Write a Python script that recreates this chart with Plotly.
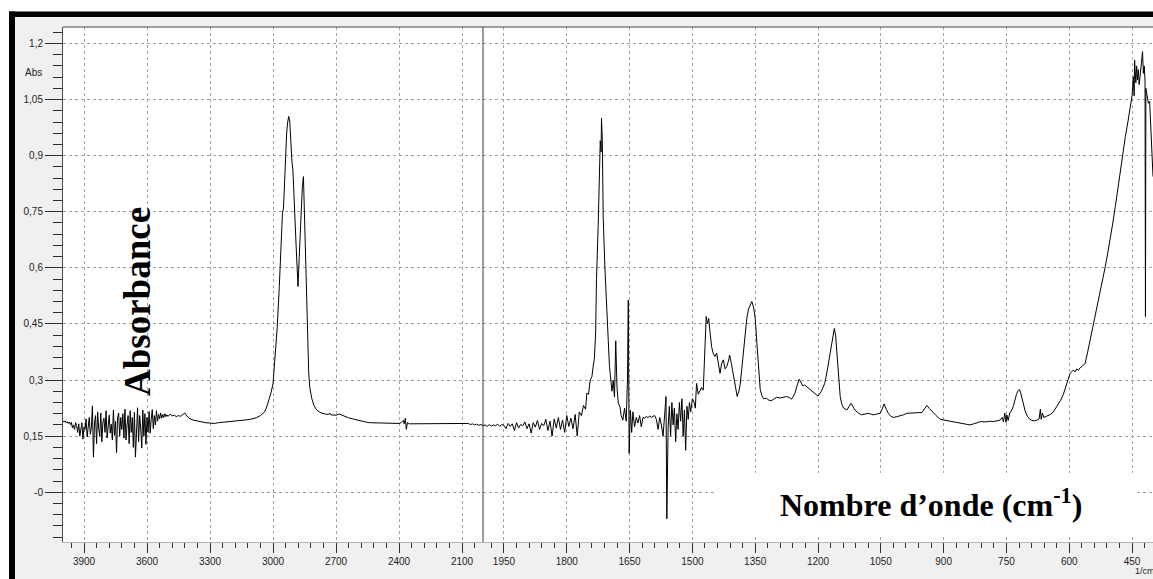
import plotly.graph_objects as go

# ---------------- data (wavenumber cm-1, absorbance) ----------------
SPEC_4000_2000 = [
    (4000, 0.190), (3995, 0.188), (3990, 0.191), (3985, 0.186), (3980, 0.189), (3975, 0.184),
    (3970, 0.188), (3965, 0.181), (3960, 0.187), (3955, 0.172), (3950, 0.180), (3945, 0.168),
    (3940, 0.186), (3935, 0.178), (3930, 0.160), (3925, 0.183), (3920, 0.150), (3915, 0.176),
    (3910, 0.186), (3905, 0.142), (3900, 0.175), (3895, 0.168), (3890, 0.196), (3885, 0.148),
    (3880, 0.170), (3875, 0.200), (3870, 0.155), (3865, 0.172), (3860, 0.231), (3855, 0.094),
    (3850, 0.185), (3845, 0.205), (3840, 0.130), (3835, 0.215), (3830, 0.170), (3825, 0.150),
    (3820, 0.212), (3815, 0.135), (3810, 0.188), (3805, 0.198), (3800, 0.160), (3795, 0.218),
    (3790, 0.145), (3785, 0.176), (3780, 0.206), (3775, 0.158), (3770, 0.182), (3765, 0.140),
    (3760, 0.220), (3755, 0.152), (3750, 0.190), (3745, 0.106), (3740, 0.200), (3735, 0.212),
    (3730, 0.150), (3725, 0.200), (3720, 0.168), (3715, 0.210), (3710, 0.145), (3705, 0.222),
    (3700, 0.140), (3695, 0.180), (3690, 0.205), (3685, 0.130), (3680, 0.218), (3675, 0.160),
    (3670, 0.200), (3665, 0.120), (3660, 0.214), (3655, 0.094), (3650, 0.180), (3645, 0.226),
    (3640, 0.135), (3635, 0.205), (3630, 0.172), (3625, 0.118), (3620, 0.220), (3615, 0.150),
    (3610, 0.210), (3605, 0.128), (3600, 0.200), (3595, 0.160), (3590, 0.216), (3585, 0.158),
    (3580, 0.195), (3575, 0.221), (3570, 0.170), (3565, 0.205), (3560, 0.180), (3555, 0.218),
    (3550, 0.190), (3545, 0.208), (3540, 0.196), (3535, 0.212), (3530, 0.198), (3525, 0.208),
    (3520, 0.200), (3515, 0.210), (3510, 0.202), (3505, 0.207), (3500, 0.203), (3490, 0.209),
    (3480, 0.204), (3470, 0.206), (3460, 0.202), (3450, 0.205), (3440, 0.203), (3430, 0.207),
    (3420, 0.212), (3410, 0.204), (3400, 0.198), (3380, 0.193), (3360, 0.190), (3340, 0.188),
    (3320, 0.186), (3300, 0.185), (3280, 0.184), (3260, 0.186), (3240, 0.187), (3220, 0.189),
    (3200, 0.190), (3180, 0.191), (3160, 0.192), (3140, 0.193), (3120, 0.194), (3100, 0.196),
    (3080, 0.199), (3060, 0.205), (3040, 0.215), (3030, 0.228), (3020, 0.245), (3010, 0.265),
    (3000, 0.290), (2990, 0.354), (2980, 0.440), (2970, 0.550), (2960, 0.690), (2955, 0.746),
    (2950, 0.760), (2945, 0.835), (2940, 0.915), (2935, 0.960), (2930, 0.990), (2925, 1.005),
    (2920, 0.990), (2915, 0.930), (2910, 0.886), (2905, 0.860), (2900, 0.780), (2895, 0.720),
    (2890, 0.660), (2885, 0.600), (2881, 0.550), (2875, 0.630), (2870, 0.700), (2865, 0.780),
    (2860, 0.820), (2855, 0.844), (2850, 0.740), (2845, 0.600), (2840, 0.470), (2835, 0.380),
    (2830, 0.320), (2825, 0.280), (2815, 0.250), (2805, 0.232), (2795, 0.222), (2785, 0.217),
    (2770, 0.212), (2750, 0.209), (2735, 0.208), (2730, 0.212), (2725, 0.207), (2700, 0.206),
    (2685, 0.209), (2675, 0.207), (2660, 0.203), (2640, 0.199), (2620, 0.196), (2600, 0.193),
    (2580, 0.190), (2560, 0.188), (2540, 0.186), (2500, 0.185), (2450, 0.184), (2400, 0.184),
    (2390, 0.186), (2380, 0.192), (2375, 0.183), (2370, 0.198), (2365, 0.168), (2360, 0.186),
    (2350, 0.183), (2300, 0.183), (2200, 0.183), (2100, 0.183), (2090, 0.184), (2080, 0.182),
    (2070, 0.184), (2060, 0.181), (2050, 0.183), (2040, 0.180), (2030, 0.182), (2020, 0.179),
    (2010, 0.181), (2000, 0.178),
]

SPEC_2000_400 = [
    (2000, 0.178), (1995, 0.180), (1990, 0.176), (1985, 0.181), (1980, 0.177), (1975, 0.180),
    (1970, 0.178), (1965, 0.182), (1960, 0.176), (1955, 0.181), (1950, 0.179), (1945, 0.170),
    (1940, 0.184), (1935, 0.176), (1930, 0.183), (1925, 0.165), (1920, 0.186), (1915, 0.172),
    (1910, 0.181), (1905, 0.178), (1900, 0.188), (1895, 0.170), (1890, 0.183), (1885, 0.158),
    (1880, 0.186), (1875, 0.174), (1870, 0.192), (1865, 0.168), (1860, 0.184), (1855, 0.178),
    (1850, 0.195), (1845, 0.165), (1840, 0.190), (1835, 0.150), (1830, 0.196), (1825, 0.172),
    (1820, 0.200), (1815, 0.168), (1810, 0.193), (1805, 0.160), (1800, 0.205), (1795, 0.176),
    (1790, 0.198), (1785, 0.170), (1780, 0.208), (1775, 0.150), (1770, 0.215), (1765, 0.205),
    (1760, 0.232), (1755, 0.222), (1752, 0.265), (1748, 0.262), (1744, 0.300), (1740, 0.309),
    (1737, 0.336), (1734, 0.358), (1731, 0.426), (1729, 0.568), (1725, 0.710), (1722, 0.855),
    (1720, 0.940), (1718, 0.910), (1717, 1.000), (1715, 0.940), (1713, 0.737), (1709, 0.603),
    (1704, 0.470), (1698, 0.336), (1692, 0.270), (1689, 0.300), (1686, 0.255), (1683, 0.405),
    (1680, 0.280), (1677, 0.239), (1673, 0.229), (1670, 0.205), (1666, 0.193), (1662, 0.225),
    (1658, 0.190), (1655, 0.300), (1653, 0.514), (1651, 0.104), (1648, 0.220), (1645, 0.160),
    (1642, 0.215), (1638, 0.175), (1634, 0.200), (1630, 0.185), (1626, 0.205), (1622, 0.175),
    (1618, 0.200), (1614, 0.198), (1610, 0.203), (1606, 0.199), (1602, 0.204), (1598, 0.200),
    (1594, 0.203), (1590, 0.205), (1586, 0.195), (1582, 0.168), (1578, 0.200), (1574, 0.180),
    (1570, 0.150), (1566, 0.210), (1563, 0.256), (1561, -0.071), (1558, 0.170), (1555, 0.230),
    (1552, 0.150), (1549, 0.240), (1546, 0.180), (1543, 0.225), (1540, 0.135), (1537, 0.210),
    (1534, 0.168), (1531, 0.240), (1528, 0.190), (1525, 0.250), (1522, 0.150), (1519, 0.220),
    (1516, 0.112), (1513, 0.230), (1510, 0.195), (1507, 0.240), (1504, 0.215), (1500, 0.250),
    (1496, 0.240), (1493, 0.225), (1490, 0.291), (1486, 0.262), (1482, 0.272), (1478, 0.280),
    (1474, 0.273), (1470, 0.372), (1467, 0.470), (1464, 0.450), (1461, 0.465), (1458, 0.430),
    (1454, 0.389), (1450, 0.370), (1446, 0.363), (1442, 0.372), (1438, 0.340), (1434, 0.318),
    (1430, 0.345), (1426, 0.354), (1422, 0.330), (1418, 0.336), (1414, 0.350), (1411, 0.367),
    (1407, 0.345), (1403, 0.320), (1398, 0.282), (1393, 0.256), (1389, 0.270), (1386, 0.287),
    (1382, 0.330), (1378, 0.380), (1374, 0.430), (1370, 0.465), (1366, 0.490), (1362, 0.502),
    (1358, 0.510), (1354, 0.495), (1350, 0.465), (1346, 0.400), (1342, 0.336), (1338, 0.275),
    (1334, 0.258), (1330, 0.250), (1323, 0.251), (1317, 0.246), (1311, 0.245), (1305, 0.250),
    (1299, 0.254), (1290, 0.252), (1282, 0.255), (1275, 0.256), (1268, 0.253), (1263, 0.249),
    (1259, 0.256), (1255, 0.265), (1250, 0.285), (1245, 0.302), (1240, 0.292), (1236, 0.284),
    (1232, 0.287), (1228, 0.283), (1222, 0.277), (1216, 0.272), (1208, 0.265), (1200, 0.257),
    (1192, 0.270), (1184, 0.291), (1178, 0.325), (1172, 0.363), (1166, 0.405), (1161, 0.438),
    (1158, 0.420), (1156, 0.389), (1152, 0.330), (1147, 0.256), (1143, 0.235), (1139, 0.225),
    (1131, 0.220), (1126, 0.228), (1121, 0.238), (1116, 0.228), (1112, 0.220), (1104, 0.212),
    (1096, 0.207), (1088, 0.209), (1080, 0.211), (1074, 0.209), (1068, 0.207), (1060, 0.209),
    (1052, 0.211), (1047, 0.222), (1042, 0.236), (1037, 0.222), (1032, 0.211), (1026, 0.203),
    (1020, 0.200), (1012, 0.202), (1004, 0.204), (996, 0.207), (988, 0.211), (980, 0.212),
    (970, 0.212), (960, 0.213), (952, 0.213), (946, 0.222), (940, 0.232), (934, 0.224),
    (928, 0.216), (918, 0.205), (908, 0.195), (900, 0.193), (892, 0.192), (880, 0.189),
    (868, 0.186), (856, 0.184), (846, 0.182), (837, 0.180), (825, 0.184), (812, 0.189),
    (800, 0.188), (790, 0.190), (781, 0.189), (772, 0.191), (765, 0.193), (760, 0.200),
    (757, 0.188), (754, 0.212), (751, 0.187), (749, 0.207), (746, 0.192), (742, 0.212),
    (737, 0.220), (733, 0.232), (729, 0.250), (726, 0.262), (722, 0.272), (719, 0.275),
    (716, 0.266), (713, 0.251), (709, 0.232), (705, 0.216), (700, 0.203), (695, 0.196),
    (689, 0.192), (683, 0.191), (677, 0.193), (672, 0.196), (669, 0.222), (667, 0.195),
    (664, 0.212), (661, 0.200), (655, 0.203), (650, 0.205), (645, 0.208), (638, 0.215),
    (630, 0.228), (621, 0.245), (614, 0.262), (606, 0.291), (602, 0.310), (598, 0.318),
    (594, 0.322), (590, 0.327), (586, 0.322), (582, 0.330), (578, 0.326), (574, 0.333),
    (568, 0.338), (562, 0.345), (556, 0.375), (550, 0.407), (544, 0.440), (538, 0.470),
    (532, 0.505), (526, 0.541), (520, 0.572), (514, 0.603), (508, 0.640), (502, 0.675),
    (496, 0.720), (490, 0.764), (484, 0.812), (478, 0.862), (472, 0.905), (466, 0.951),
    (460, 0.990), (454, 1.031), (450, 1.060), (447, 1.111), (445, 1.060), (444, 1.156),
    (441, 1.095), (439, 1.140), (437, 1.102), (435, 1.130), (433, 1.090), (431, 1.111),
    (428, 1.150), (425, 1.178), (423, 1.120), (421, 1.140), (419, 1.100), (418, 0.470),
    (417, 1.080), (414, 1.058), (411, 1.040), (408, 1.045), (406, 0.990), (404, 0.924),
    (402, 0.880), (400, 0.844),
]

Y_TICK_VALUES = [0, 0.15, 0.3, 0.45, 0.6, 0.75, 0.9, 1.05, 1.2]
Y_TICK_LABELS = ["-0", "0,15", "0,3", "0,45", "0,6", "0,75", "0,9", "1,05", "1,2"]
Y_RANGE = [-0.133, 1.244]
X_LEFT_RANGE = [4000, 2000]
X_RIGHT_RANGE = [2000, 400]

wn_left = [p[0] for p in SPEC_4000_2000]
ab_left = [p[1] for p in SPEC_4000_2000]
wn_right = [p[0] for p in SPEC_2000_400]
ab_right = [p[1] for p in SPEC_2000_400]

# ---------------- layout geometry ----------------
W, H = 1153, 579
ML, MR, MT, MB = 63, 0, 27, 37
PW, PH = W - ML - MR, H - MT - MB
SPLIT = 420 / PW  # fraction of plot width used by 4000-2000


def px(xp):
    return (xp - ML) / PW


def py(yp):
    return (H - MB - yp) / PH


TICKFONT = dict(family="Liberation Sans, Arial, sans-serif", size=10, color="#1e1e1e")
GRID = dict(showgrid=True, gridcolor="#a3a3a3", gridwidth=1, griddash="3px,3px")

fig = go.Figure()
fig.add_trace(go.Scatter(x=wn_left, y=ab_left, mode="lines", xaxis="x", yaxis="y",
                         line=dict(color="#000000", width=1), hoverinfo="skip", showlegend=False))
fig.add_trace(go.Scatter(x=wn_right, y=ab_right, mode="lines", xaxis="x2", yaxis="y",
                         line=dict(color="#000000", width=1), hoverinfo="skip", showlegend=False))

xcommon = dict(ticks="outside", ticklen=10, tickwidth=1, tickcolor="#303030",
               tickfont=TICKFONT, showline=True, linecolor="#b4b4b4", linewidth=1,
               zeroline=False, anchor="y", fixedrange=True, **GRID)

fig.update_layout(
    width=W, height=H,
    margin=dict(l=ML, r=MR, t=MT, b=MB, pad=0),
    paper_bgcolor="#f0f0f0", plot_bgcolor="#ffffff",
    showlegend=False,
    xaxis=dict(domain=[0, SPLIT], range=X_LEFT_RANGE, tickmode="linear", tick0=0, dtick=300,
               minor=dict(tickmode="linear", tick0=0, dtick=60, ticks="outside", ticklen=5,
                          tickcolor="#303030", showgrid=False),
               **xcommon),
    xaxis2=dict(domain=[SPLIT, 1], range=X_RIGHT_RANGE, tickmode="linear", tick0=0, dtick=150,
                minor=dict(tickmode="linear", tick0=0, dtick=30, ticks="outside", ticklen=5,
                           tickcolor="#303030", showgrid=False),
                **xcommon),
    yaxis=dict(domain=[0, 1], range=Y_RANGE, anchor="x", tickmode="array",
               tickvals=Y_TICK_VALUES, ticktext=Y_TICK_LABELS,
               ticks="outside", ticklen=17, tickwidth=1, tickcolor="#303030", tickfont=TICKFONT,
               minor=dict(tickmode="linear", tick0=0, dtick=0.03, ticks="outside", ticklen=9,
                          tickcolor="#303030", showgrid=False),
               showline=True, linecolor="#4a4a4a", linewidth=1, zeroline=False, fixedrange=True,
               **GRID),
)

shapes = [
    # top border of plot area
    dict(type="line", xref="paper", yref="paper", x0=0, x1=1, y0=1, y1=1,
         line=dict(color="#4a4a4a", width=1)),
    # axis break line at 2000 cm-1
    dict(type="line", xref="paper", yref="paper", x0=SPLIT, x1=SPLIT, y0=0, y1=1,
         line=dict(color="#3a3a3a", width=1)),
    # outer frame: white margin + black border (top and left)
    dict(type="rect", xref="paper", yref="paper", x0=px(-2), x1=px(W + 2), y0=py(11.5), y1=py(-2),
         fillcolor="#ffffff", line=dict(width=0)),
    dict(type="rect", xref="paper", yref="paper", x0=px(9), x1=px(W + 2), y0=py(17), y1=py(11.5),
         fillcolor="#000000", line=dict(width=0)),
    dict(type="rect", xref="paper", yref="paper", x0=px(-2), x1=px(9), y0=py(H + 2), y1=py(-2),
         fillcolor="#ffffff", line=dict(width=0)),
    dict(type="rect", xref="paper", yref="paper", x0=px(9), x1=px(15), y0=py(H + 2), y1=py(11.5),
         fillcolor="#000000", line=dict(width=0)),
]
fig.update_layout(shapes=shapes)

annotations = [
    dict(text="Abs", xref="paper", yref="paper", x=px(33), y=py(72.5), showarrow=False,
         xanchor="center", yanchor="middle",
         font=dict(family="Liberation Sans, Arial, sans-serif", size=10, color="#1e1e1e")),
    dict(text="<b>Absorbance</b>", xref="paper", yref="paper", x=px(137), y=py(302),
         showarrow=False, textangle=-90, xanchor="center", yanchor="middle",
         font=dict(family="Liberation Serif, Times New Roman, serif", size=37, color="#000000")),
    # white box behind the x-axis title
    dict(text=" ", xref="paper", yref="paper", x=px(926.5), y=py(505), showarrow=False,
         xanchor="center", yanchor="middle", width=419, height=64, bgcolor="#ffffff",
         borderpad=0, borderwidth=0),
    dict(text="<b>Nombre d\u2019onde (cm<sup>-1</sup>)</b>", xref="paper", yref="paper",
         x=px(931), y=py(502.5), showarrow=False, xanchor="center", yanchor="middle",
         font=dict(family="Liberation Serif, Times New Roman, serif", size=32, color="#000000")),
    dict(text="1/cm", xref="paper", yref="paper", x=px(1133), y=py(570.5), showarrow=False,
         xanchor="left", yanchor="middle",
         font=dict(family="Liberation Sans, Arial, sans-serif", size=9, color="#1e1e1e")),
]
fig.update_layout(annotations=annotations)

fig.write_html("out.html",
               config={"displayModeBar": False, "staticPlot": True},
               post_script="document.body.style.margin='0';document.body.style.overflow='hidden';")
